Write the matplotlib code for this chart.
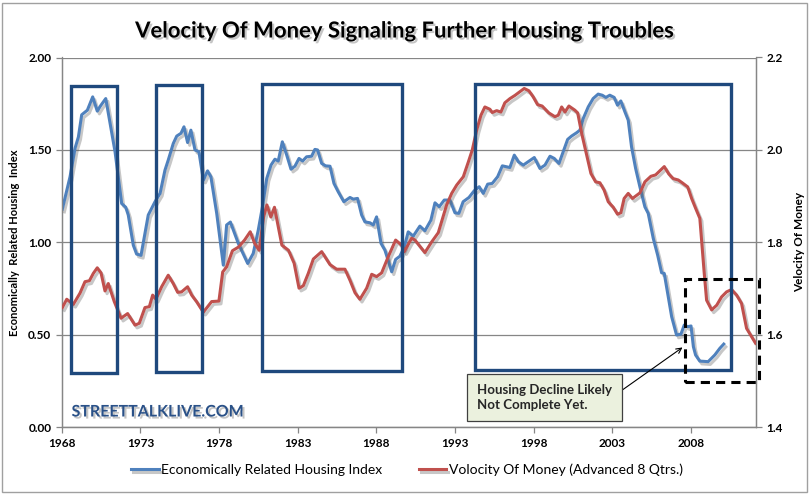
import matplotlib
matplotlib.use("Agg")
import matplotlib.pyplot as plt
import matplotlib.patheffects as pe
from matplotlib.patches import Rectangle

plt.rcParams['font.family'] = ['Lato', 'DejaVu Sans']

# housing index (left axis)
housing_years = [1968.04, 1968.53, 1968.85, 1969.06, 1969.27, 1969.63, 1969.97, 1970.26, 1970.48, 1970.80,
                 1971.11, 1971.39, 1971.81, 1972.07, 1972.23, 1972.55, 1972.76, 1973.04, 1973.25, 1973.50,
                 1973.93, 1974.25, 1974.56, 1974.77, 1975.09, 1975.31, 1975.58, 1975.77, 1976.00, 1976.21,
                 1976.47, 1976.72, 1977.00, 1977.27, 1977.48, 1977.85, 1978.27, 1978.48, 1978.72, 1979.22,
                 1979.82, 1980.17, 1980.49, 1980.75, 1981.03, 1981.30, 1981.55, 1981.76, 1982.02, 1982.30,
                 1982.57, 1982.82, 1983.08, 1983.31, 1983.56, 1983.88, 1984.09, 1984.26, 1984.52, 1984.77,
                 1985.05, 1985.30, 1985.57, 1985.93, 1986.32, 1986.53, 1986.80, 1987.06, 1987.27, 1987.59,
                 1987.80, 1988.01, 1988.29, 1988.54, 1988.97, 1989.22, 1989.49, 1989.77, 1990.02, 1990.34,
                 1990.76, 1991.08, 1991.46, 1991.72, 1991.99, 1992.31, 1992.67, 1992.99, 1993.24, 1993.51,
                 1993.88, 1994.21, 1994.53, 1994.79, 1995.07, 1995.36, 1995.70, 1996.00, 1996.48, 1996.76,
                 1997.02, 1997.33, 1998.03, 1998.39, 1998.71, 1999.03, 1999.30, 1999.60, 1999.87, 2000.15,
                 2000.40, 2000.72, 2000.93, 2001.14, 2001.46, 2001.77, 2002.09, 2002.35, 2002.58, 2002.83,
                 2003.11, 2003.32, 2003.53, 2003.79, 2004.00, 2004.21, 2004.47, 2004.74, 2005.06, 2005.27,
                 2005.59, 2005.87, 2006.12, 2006.29, 2006.54, 2006.76, 2007.07, 2007.35, 2007.56, 2007.78,
                 2007.99, 2008.14, 2008.28, 2008.55, 2009.08, 2009.50, 2009.82, 2010.07]
housing_index = [1.18, 1.355, 1.51, 1.57, 1.69, 1.715, 1.787, 1.71, 1.74, 1.778,
                 1.625, 1.49, 1.21, 1.19, 1.148, 0.985, 0.937, 0.93, 1.03, 1.148,
                 1.22, 1.265, 1.39, 1.445, 1.535, 1.575, 1.59, 1.625, 1.54, 1.607,
                 1.50, 1.49, 1.337, 1.387, 1.355, 1.157, 0.877, 1.094, 1.11, 0.995,
                 0.886, 0.94, 1.066, 1.19, 1.346, 1.418, 1.45, 1.44, 1.544, 1.472,
                 1.396, 1.412, 1.454, 1.44, 1.463, 1.466, 1.503, 1.50, 1.427, 1.414,
                 1.412, 1.319, 1.274, 1.22, 1.243, 1.234, 1.238, 1.148, 1.111, 1.106,
                 1.094, 1.138, 0.995, 0.958, 0.841, 0.908, 0.925, 0.976, 1.057, 1.034,
                 1.088, 1.063, 1.12, 1.214, 1.193, 1.229, 1.229, 1.16, 1.157, 1.22,
                 1.243, 1.279, 1.301, 1.265, 1.315, 1.319, 1.355, 1.414, 1.405, 1.472,
                 1.436, 1.418, 1.459, 1.40, 1.418, 1.466, 1.454, 1.427, 1.49, 1.557,
                 1.575, 1.593, 1.607, 1.67, 1.733, 1.778, 1.802, 1.796, 1.784, 1.796,
                 1.784, 1.742, 1.765, 1.706, 1.661, 1.517, 1.40, 1.301, 1.192, 1.157,
                 1.022, 0.931, 0.836, 0.832, 0.706, 0.598, 0.499, 0.504, 0.553, 0.544,
                 0.548, 0.436, 0.391, 0.358, 0.355, 0.391, 0.427, 0.45]

# velocity of money, advanced 8 quarters (right axis)
velocity_years = [1968.04, 1968.32, 1968.74, 1969.16, 1969.48, 1969.76, 1970.01, 1970.26, 1970.50, 1970.75,
                  1970.96, 1971.34, 1971.77, 1972.19, 1972.66, 1972.93, 1973.29, 1973.57, 1973.78, 1973.99,
                  1974.35, 1974.77, 1975.09, 1975.37, 1975.62, 1976.00, 1976.26, 1976.57, 1977.00, 1977.53,
                  1977.99, 1978.23, 1978.48, 1978.85, 1979.24, 1979.62, 1979.98, 1980.26, 1980.55, 1980.83,
                  1981.04, 1981.29, 1981.52, 1981.99, 1982.41, 1982.77, 1983.08, 1983.35, 1983.67, 1983.99,
                  1984.52, 1985.05, 1985.47, 1986.00, 1986.32, 1986.64, 1986.95, 1987.38, 1987.70, 1988.01,
                  1988.33, 1988.75, 1989.22, 1989.60, 1989.77, 1990.24, 1990.45, 1991.08, 1991.51, 1991.93,
                  1992.14, 1992.46, 1992.78, 1993.10, 1993.52, 1993.84, 1994.09, 1994.37, 1994.64, 1994.89,
                  1995.21, 1995.36, 1995.64, 1995.91, 1996.16, 1996.48, 1996.80, 1997.12, 1997.39, 1997.69,
                  1997.96, 1998.24, 1998.53, 1998.96, 1999.34, 1999.55, 1999.77, 1999.98, 2000.23, 2000.61,
                  2000.79, 2001.04, 2001.36, 2001.63, 2001.93, 2002.20, 2002.47, 2002.73, 2003.05, 2003.32,
                  2003.53, 2003.74, 2004.00, 2004.27, 2004.74, 2005.06, 2005.44, 2005.74, 2006.01, 2006.29,
                  2006.58, 2006.86, 2007.18, 2007.43, 2007.78, 2008.03, 2008.28, 2008.55, 2008.66, 2008.83,
                  2008.98, 2009.30, 2009.62, 2009.93, 2010.25, 2010.57, 2010.89, 2011.20, 2011.52, 2011.84,
                  2012.09]
velocity = [1.659, 1.677, 1.666, 1.690, 1.715, 1.717, 1.733, 1.745, 1.734, 1.695,
            1.711, 1.672, 1.636, 1.646, 1.621, 1.625, 1.659, 1.661, 1.686, 1.677,
            1.704, 1.729, 1.711, 1.692, 1.693, 1.704, 1.686, 1.672, 1.649, 1.672,
            1.673, 1.736, 1.747, 1.782, 1.790, 1.805, 1.823, 1.798, 1.783, 1.855,
            1.881, 1.855, 1.876, 1.794, 1.783, 1.755, 1.701, 1.706, 1.733, 1.764,
            1.780, 1.752, 1.742, 1.742, 1.718, 1.691, 1.677, 1.701, 1.731, 1.726,
            1.734, 1.769, 1.805, 1.794, 1.780, 1.809, 1.805, 1.778, 1.801, 1.821,
            1.845, 1.881, 1.906, 1.924, 1.942, 1.974, 2.000, 2.043, 2.075, 2.093,
            2.088, 2.081, 2.085, 2.082, 2.102, 2.111, 2.118, 2.126, 2.133, 2.128,
            2.115, 2.098, 2.095, 2.080, 2.072, 2.075, 2.093, 2.082, 2.095, 2.086,
            2.080, 2.036, 1.989, 1.949, 1.931, 1.929, 1.913, 1.888, 1.876, 1.861,
            1.864, 1.895, 1.906, 1.895, 1.907, 1.931, 1.943, 1.946, 1.955, 1.964,
            1.948, 1.938, 1.935, 1.929, 1.920, 1.895, 1.874, 1.852, 1.805, 1.733,
            1.675, 1.654, 1.664, 1.682, 1.693, 1.698, 1.686, 1.668, 1.614, 1.596,
            1.582]

year_ticks = [1968, 1973, 1978, 1983, 1988, 1993, 1998, 2003, 2008]
left_ticks = [0.0, 0.5, 1.0, 1.5, 2.0]
right_ticks = [1.4, 1.6, 1.8, 2.0, 2.2]

W, H = 812, 496
fig = plt.figure(figsize=(W / 100, H / 100), dpi=100)
ax = fig.add_axes([61.7 / W, 1 - 427.3 / H, (755.7 - 61.7) / W, (427.3 - 57.5) / H])
ax2 = ax.twinx()

blue = '#4F81BD'
red = '#C0504D'
navy = '#1F497D'
axis_gray = '#868686'
shadow = [pe.SimpleLineShadow(offset=(1.5, -2), shadow_color='#606060', alpha=0.35), pe.Normal()]

ax.plot(housing_years, housing_index, color=blue, lw=2.2, solid_joinstyle='round',
        path_effects=shadow, label='Economically Related Housing Index', zorder=3)
ax2.plot(velocity_years, velocity, color=red, lw=2.2, solid_joinstyle='round',
         path_effects=shadow, label='Volocity Of Money (Advanced 8 Qtrs.)', zorder=3)

ax.set_xlim(1968, 2012.1)
ax.set_ylim(0, 2)
ax2.set_ylim(1.4, 2.2)
ax.set_xticks(year_ticks)
ax.set_yticks(left_ticks)
ax2.set_yticks(right_ticks)
ax.set_yticklabels(['%.2f' % v for v in left_ticks])
ax2.set_yticklabels(['%.1f' % v for v in right_ticks])
ax.grid(axis='y', color=axis_gray, lw=0.9)
ax.set_axisbelow(True)

for a in (ax, ax2):
    a.spines['top'].set_visible(False)
    for s in ('left', 'right', 'bottom'):
        a.spines[s].set_color(axis_gray)
        a.spines[s].set_linewidth(0.9)
    a.tick_params(colors=axis_gray, labelcolor='black', length=4, width=0.9, labelsize=8.5, direction='out')
for lbl in ax.get_xticklabels() + ax.get_yticklabels() + ax2.get_yticklabels():
    lbl.set_fontweight('bold')

ax.set_ylabel('Economically  Related Housing  Index', fontsize=8, fontweight='bold', labelpad=6)
ax2.set_ylabel('Velocity Of Money', fontsize=8.5, fontweight='bold', labelpad=8)

# highlight boxes (drawn on top of both lines)
boxes = [(1968.59, 0.295, 1971.49, 1.845), (1973.99, 0.297, 1976.89, 1.85),
         (1980.74, 0.303, 1989.6, 1.856), (1994.26, 0.31, 2010.5, 1.859)]
for x0, y0, x1, y1 in boxes:
    ax2.add_patch(Rectangle((x0, y0), x1 - x0, y1 - y0, transform=ax.transData,
                            fill=False, ec=navy, lw=2.4, zorder=5))
ax2.add_patch(Rectangle((2007.6, 0.243), 4.7, 0.559, transform=ax.transData, fill=False,
                        ec='black', lw=2.2, ls=(0, (3, 2)), zorder=5, clip_on=False))

ax2.annotate('Housing Decline Likely\nNot Complete Yet.', xy=(2007.45, 0.432), xycoords=ax.transData,
             xytext=(476.7 / W, 1 - 397.5 / H), textcoords='figure fraction',
             ha='left', va='center', fontsize=9.5, fontweight='bold', color='#262626', linespacing=1.35,
             bbox=dict(boxstyle='square,pad=0.75', fc='#EBF1DE', ec='#404040', lw=0.9),
             arrowprops=dict(arrowstyle='->', color='black', lw=0.8, relpos=(1, 0.5), shrinkA=0, shrinkB=0),
             zorder=6)

txt_shadow = [pe.SimplePatchShadow(offset=(1.5, -1.5), shadow_rgbFace='#808080', alpha=0.45), pe.Normal()]
fig.text(157.5 / W, 1 - 412.5 / H, 'STREETTALKLIVE.COM', ha='center', va='center', fontsize=11.5,
         fontweight='bold', color='#2A5188', path_effects=txt_shadow)

fig.text(405 / W, 1 - 31 / H, 'Velocity Of Money Signaling Further Housing Troubles', ha='center',
         va='center', fontsize=15.9, fontweight='bold', color='black', path_effects=txt_shadow)

h1, l1 = ax.get_legend_handles_labels()
h2, l2 = ax2.get_legend_handles_labels()
fig.legend(h1 + h2, l1 + l2, loc='center', bbox_to_anchor=(407 / W, 1 - 470 / H), ncol=2,
           frameon=False, fontsize=10, handlelength=2.0, handletextpad=0.2, columnspacing=2.6)

# chart frame
fig.patches.append(Rectangle((2 / W, 1 - 492 / H), 805 / W, 489 / H, transform=fig.transFigure,
                             fill=False, ec='#A0A0A0', lw=1.0))

fig.savefig('out.png', dpi=100)
